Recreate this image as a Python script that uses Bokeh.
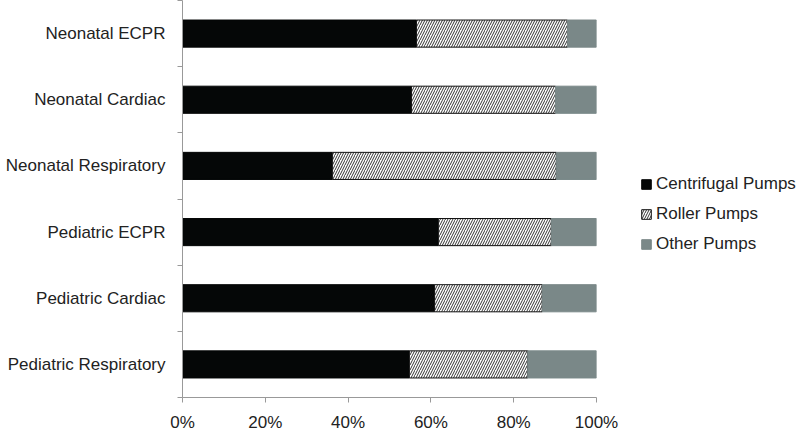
from bokeh.plotting import figure
from bokeh.models import FixedTicker, Range1d, Legend, LegendItem, ColumnDataSource
from bokeh.embed import file_html
from bokeh.resources import INLINE

categories = ["Pediatric Respiratory", "Pediatric Cardiac", "Pediatric ECPR",
              "Neonatal Respiratory", "Neonatal Cardiac", "Neonatal ECPR"]
centrifugal = [54.8, 60.9, 61.8, 36.2, 55.3, 56.5]
roller = [28.6, 26.0, 27.3, 54.1, 34.8, 36.5]
other = [round(100 - c - r, 1) for c, r in zip(centrifugal, roller)]
x_ticks = [0, 20, 40, 60, 80, 100]

ypos = [i + 0.5 for i in range(len(categories))]
c_end = centrifugal
r_end = [c + r for c, r in zip(centrifugal, roller)]
o_end = [a + o for a, o in zip(r_end, other)]

src = ColumnDataSource(dict(y=ypos, z=[0] * 6, c=c_end, r=r_end, o=o_end))

p = figure(output_backend="svg", toolbar_location=None,
           frame_width=414, frame_height=397,
           min_border_left=182, min_border_right=204, min_border_top=0, min_border_bottom=34,
           x_range=Range1d(0, 100), y_range=Range1d(0, 6.0))
p.background_fill_color = "white"
p.border_fill_color = "white"
p.outline_line_color = None
p.grid.visible = False

bh = 0.41
g1 = p.hbar(y="y", left="z", right="c", height=bh, source=src,
            fill_color="#050707", line_color="#050707")
g2 = p.hbar(y="y", left="c", right="r", height=bh, source=src,
            fill_color="white", line_color="#111111", line_width=1,
            hatch_pattern="/", hatch_color="#333333", hatch_scale=5, hatch_weight=1)
g3 = p.hbar(y="y", left="r", right="o", height=bh, source=src,
            fill_color="#7a8888", line_color="#7a8888")

axis_col = "#999999"
font = "Liberation Sans"

# x axis
p.xaxis.ticker = FixedTicker(ticks=x_ticks, minor_ticks=[])
p.xaxis.major_label_overrides = {t: f"{t}%" for t in x_ticks}
p.xaxis.axis_line_color = axis_col
p.xaxis.major_tick_line_color = axis_col
p.xaxis.major_tick_out = 5
p.xaxis.major_tick_in = 0
p.xaxis.major_label_text_font = font
p.xaxis.major_label_text_font_size = "17px"
p.xaxis.major_label_text_color = "#222222"
p.xaxis.major_label_standoff = 10

# y axis
p.yaxis.ticker = FixedTicker(ticks=ypos, minor_ticks=list(range(0, 7)))
p.yaxis.major_label_overrides = {y: c for y, c in zip(ypos, categories)}
p.yaxis.axis_line_color = axis_col
p.yaxis.major_tick_line_color = None
p.yaxis.major_tick_out = 0
p.yaxis.major_tick_in = 0
p.yaxis.minor_tick_line_color = axis_col
p.yaxis.minor_tick_out = 5
p.yaxis.minor_tick_in = 0
p.yaxis.major_label_text_font = font
p.yaxis.major_label_text_font_size = "17px"
p.yaxis.major_label_text_color = "#222222"
p.yaxis.major_label_standoff = 12

legend = Legend(items=[LegendItem(label="Centrifugal Pumps", renderers=[g1]),
                       LegendItem(label="Roller Pumps", renderers=[g2]),
                       LegendItem(label="Other Pumps", renderers=[g3])],
                location=(44, 143))
legend.label_text_font = font
legend.label_text_font_size = "17px"
legend.label_text_color = "#222222"
legend.glyph_width = 12
legend.glyph_height = 12
legend.label_standoff = 4
legend.spacing = 10
legend.padding = 0
legend.margin = 0
legend.border_line_color = None
legend.background_fill_alpha = 0
legend.label_height = 20
p.add_layout(legend, "right")

open("out.html", "w").write(file_html(p, INLINE))
